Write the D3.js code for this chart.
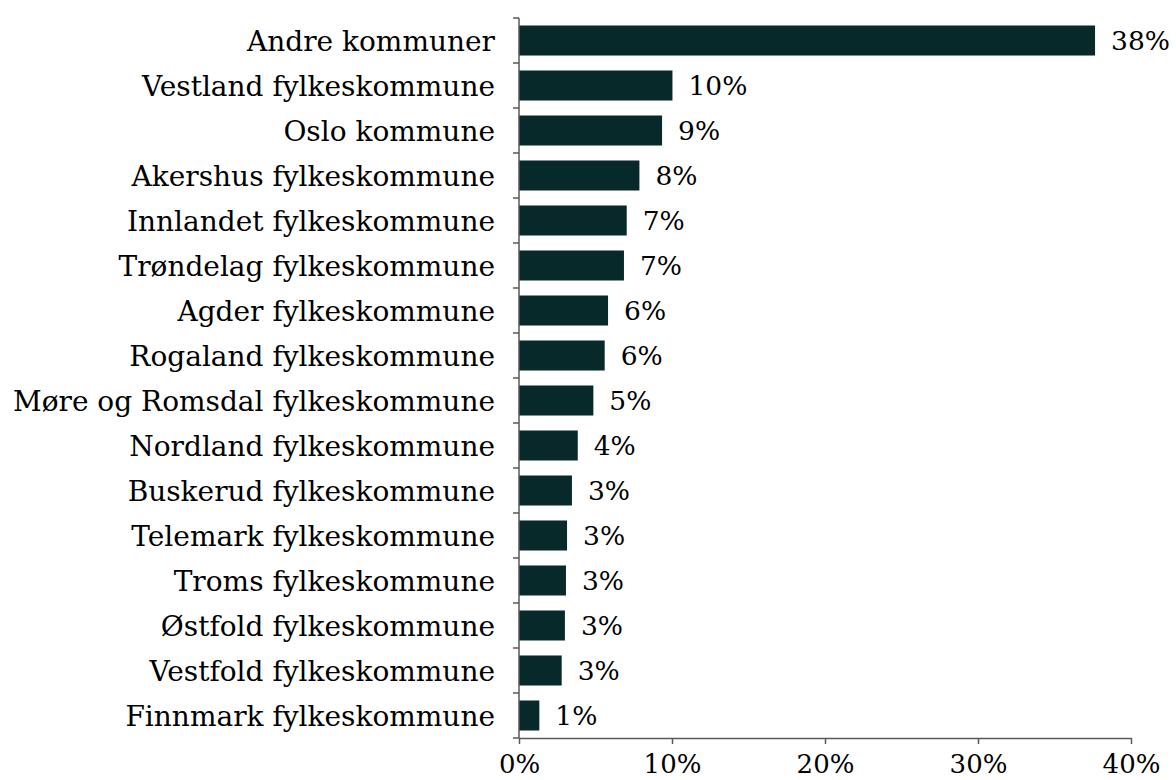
<!DOCTYPE html>
<html>
<head>
<meta charset="utf-8">
<script src="https://cdn.jsdelivr.net/npm/d3@7"></script>
<style>
  body { margin: 0; background: #fff; }
  text { font-family: "DejaVu Serif", serif; fill: #000; }
</style>
</head>
<body>
<div id="chart"></div>
<script>
// Category names, top to bottom
const categories = [
  "Andre kommuner",
  "Vestland fylkeskommune",
  "Oslo kommune",
  "Akershus fylkeskommune",
  "Innlandet fylkeskommune",
  "Trøndelag fylkeskommune",
  "Agder fylkeskommune",
  "Rogaland fylkeskommune",
  "Møre og Romsdal fylkeskommune",
  "Nordland fylkeskommune",
  "Buskerud fylkeskommune",
  "Telemark fylkeskommune",
  "Troms fylkeskommune",
  "Østfold fylkeskommune",
  "Vestfold fylkeskommune",
  "Finnmark fylkeskommune"
];

// Share of total
const values = [0.3765, 0.1003, 0.0935, 0.0787, 0.0704, 0.0686, 0.0582, 0.0560,
                0.0486, 0.0384, 0.0346, 0.0314, 0.0307, 0.0300, 0.0279, 0.0133];

// Labels printed next to the bars
const valueLabels = ["38%", "10%", "9%", "8%", "7%", "7%", "6%", "6%",
                     "5%", "4%", "3%", "3%", "3%", "3%", "3%", "1%"];

const xTicks = [0, 0.1, 0.2, 0.3, 0.4];

const width = 1176, height = 780;
const margin = { top: 18, right: 45, bottom: 42, left: 519 };

const svg = d3.select("#chart")
  .append("svg")
  .attr("width", width)
  .attr("height", height);

const x = d3.scaleLinear()
  .domain([0, 0.4])
  .range([margin.left, width - margin.right]);

const y = d3.scaleBand()
  .domain(categories)
  .range([margin.top, height - margin.bottom])
  .paddingInner(0.333)
  .paddingOuter(0.1667);

const axisColor = "#595959";

// Bars
svg.selectAll("rect.bar")
  .data(categories)
  .enter()
  .append("rect")
  .attr("class", "bar")
  .attr("x", x(0))
  .attr("y", d => y(d))
  .attr("width", (d, i) => x(values[i]) - x(0))
  .attr("height", y.bandwidth())
  .attr("fill", "#07292a");

// Value labels
svg.selectAll("text.val")
  .data(categories)
  .enter()
  .append("text")
  .attr("class", "val")
  .attr("x", (d, i) => x(values[i]) + 16)
  .attr("y", d => y(d) + y.bandwidth() / 2)
  .attr("dy", "0.36em")
  .style("font-size", "26.5px")
  .text((d, i) => valueLabels[i]);

// Category labels
svg.selectAll("text.cat")
  .data(categories)
  .enter()
  .append("text")
  .attr("class", "cat")
  .attr("x", x(0) - 24)
  .attr("y", d => y(d) + y.bandwidth() / 2)
  .attr("dy", "0.36em")
  .attr("text-anchor", "end")
  .style("font-size", "28px")
  .text(d => d);

// Y axis with ticks at band boundaries
const step = y.step();
const yBounds = d3.range(categories.length + 1).map(i => margin.top + i * step);
svg.append("line")
  .attr("x1", x(0)).attr("x2", x(0))
  .attr("y1", yBounds[0]).attr("y2", yBounds[yBounds.length - 1])
  .attr("stroke", axisColor).attr("stroke-width", 1.5);
svg.selectAll("line.ytick")
  .data(yBounds)
  .enter()
  .append("line")
  .attr("class", "ytick")
  .attr("x1", x(0) - 6).attr("x2", x(0))
  .attr("y1", d => d).attr("y2", d => d)
  .attr("stroke", axisColor).attr("stroke-width", 1.5);

// X axis
const xAxis = d3.axisBottom(x)
  .tickValues(xTicks)
  .tickFormat(d3.format(".0%"))
  .tickSize(6)
  .tickSizeOuter(0)
  .tickPadding(11);

const gx = svg.append("g")
  .attr("transform", `translate(0, ${yBounds[yBounds.length - 1]})`)
  .call(xAxis);
gx.select(".domain").attr("stroke", axisColor).attr("stroke-width", 1.5);
gx.selectAll(".tick line").attr("stroke", axisColor).attr("stroke-width", 1.5);
gx.selectAll(".tick text")
  .style("font-family", "DejaVu Serif, serif")
  .style("font-size", "26px")
  .attr("fill", "#000");
</script>
</body>
</html>
